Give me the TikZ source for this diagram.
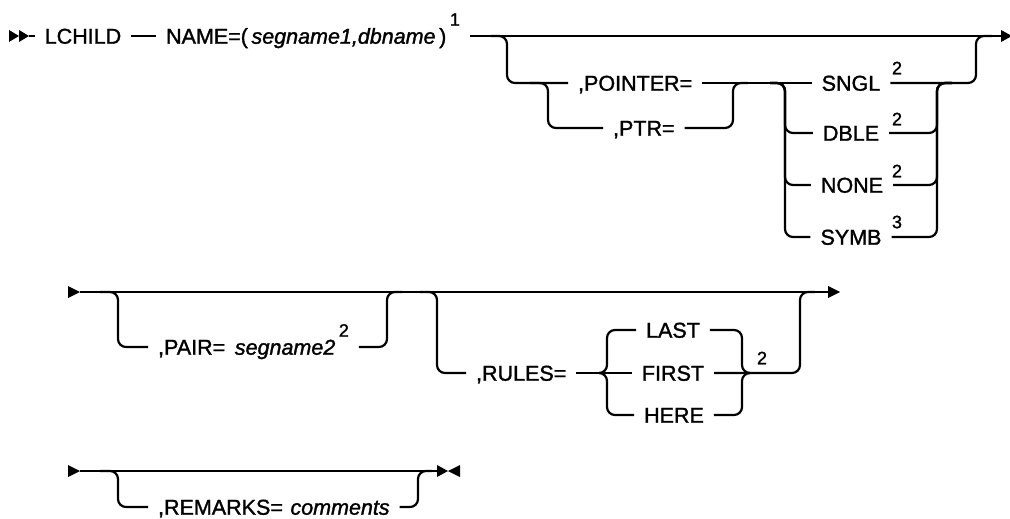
\documentclass[tikz,border=0pt]{standalone}
\usepackage{fontspec}
\setmainfont{Liberation Sans}[UprightFeatures={FakeBold=1.4},ItalicFeatures={FakeBold=1.4}]
\usetikzlibrary{calc}
\begin{document}
\begin{tikzpicture}[x=1pt,y=-1pt,line width=2.2pt,
  txt/.style={inner xsep=9pt,inner ysep=0pt,text height=15.4pt,text depth=0pt,font=\fontsize{21.5}{22}\selectfont},
  sup/.style={inner sep=0pt,font=\fontsize{18}{18}\selectfont},
  rc/.style={rounded corners=8pt}]
\useasboundingbox (0,0) rectangle (1010,519);
\newcommand{\supr}[1]{\raisebox{18pt}{\fontsize{18}{18}\selectfont #1}}
% ---------- row 1 ----------
\fill (9,30) -- (19,36) -- (9,42) -- cycle;
\fill (19,30) -- (29,36) -- (19,42) -- cycle;
\coordinate (s1) at (29,36);
\node[txt] (lchild) at (83,36) {LCHILD};
\node[txt,anchor=west] (name) at (156,36) {NAME=(\,\textit{segname1,dbname}\,)\,\supr{1}};
\coordinate (e1) at (1001,36);
\draw (s1) -- (lchild);
\draw (lchild) -- (name);
\draw (name.east) -- (e1);
\fill (1001,30) -- (1012,36) -- (1001,42) -- cycle;
% optional pointer group
\node[txt,anchor=west] (pointer) at (568,83) {,POINTER=};
\node[txt,anchor=west] (ptr) at (603,128) {,PTR=};
\coordinate (a1) at (507,36);
\draw[rc] ($(a1)+(-16,0)$) -- (a1) -- (507,83) -- (pointer.west);
\draw[rc] (530,83) -- (548,83) -- (548,128) -- (ptr.west);
\draw[rc] (ptr.east) -- (733,128) -- (733,83) -- (748,83);
% choice
\node[txt] (sngl) at (851,83) {SNGL};
\node[txt] (dble) at (851,133) {DBLE};
\node[txt] (none) at (852,185) {NONE};
\node[txt] (symb) at (851,237) {SYMB};
\node[sup] (s2a) at (897,68) {2};
\node[sup] (s2b) at (897,119) {2};
\node[sup] (s2c) at (897,171) {2};
\node[sup] (s3) at (897,222) {3};
\draw (pointer.east) -- (sngl.west);
\draw[rc] (770,83) -- (785,83) -- (785,133) -- (dble.west);
\draw[rc] (770,83) -- (785,83) -- (785,185) -- (none.west);
\draw[rc] (770,83) -- (785,83) -- (785,237) -- (symb.west);
\draw[rc] (dble.east) -- (937,133) -- (937,83) -- (952,83);
\draw[rc] (none.east) -- (937,185) -- (937,83) -- (952,83);
\draw[rc] (symb.east) -- (937,237) -- (937,83) -- (952,83);
\draw[rc] (sngl.east) -- (976,83) -- (976,36) -- (992,36);
% ---------- row 2 ----------
\fill (68,286) -- (80,292) -- (68,298) -- cycle;
\coordinate (s2) at (80,292);
\coordinate (e2) at (828,292);
\draw (s2) -- (e2);
\fill (828,286) -- (840,292) -- (828,298) -- cycle;
\node[txt,anchor=west] (pair) at (148,347) {,PAIR=\hspace{0.45em}\textit{segname2}\,\supr{2}};
\draw[rc] (100,292) -- (118,292) -- (118,347) -- (pair.west);
\draw[rc] (pair.east) -- (387,347) -- (387,292) -- (402,292);
\node[txt,anchor=west] (rules) at (466,373) {,RULES=};
\draw[rc] (420,292) -- (437,292) -- (437,373) -- (rules.west);
\node[txt] (last) at (673,330) {LAST};
\node[txt] (first) at (673,373) {FIRST};
\node[txt] (here) at (674,415) {HERE};
\draw (rules.east) -- (first.west);
\draw[rc] (last.west) -- (607,330) -- (607,373) -- (599,373);
\draw[rc] (here.west) -- (607,415) -- (607,373) -- (599,373);
\draw[rc] (last.east) -- (742,330) -- (742,373) -- (750,373);
\draw[rc] (here.east) -- (742,415) -- (742,373) -- (750,373);
\draw[rc] (first.east) -- (800,373) -- (800,292) -- (815,292);
\node[sup] (r2) at (762,358) {2};
% ---------- row 3 ----------
\fill (68,465) -- (80,471) -- (68,477) -- cycle;
\coordinate (s3) at (80,471);
\coordinate (e3) at (437,471);
\draw (s3) -- (e3);
\fill (437,465) -- (448,471) -- (437,477) -- cycle;
\fill (460,465) -- (448,471) -- (460,477) -- cycle;
\node[txt,anchor=west] (rem) at (148,507) {,REMARKS=\hspace{0.35em}\textit{comments}};
\draw[rc] (100,471) -- (118,471) -- (118,507) -- (rem.west);
\draw[rc] (rem.east) -- (418,507) -- (418,471) -- (432,471);
\end{tikzpicture}
\end{document}
